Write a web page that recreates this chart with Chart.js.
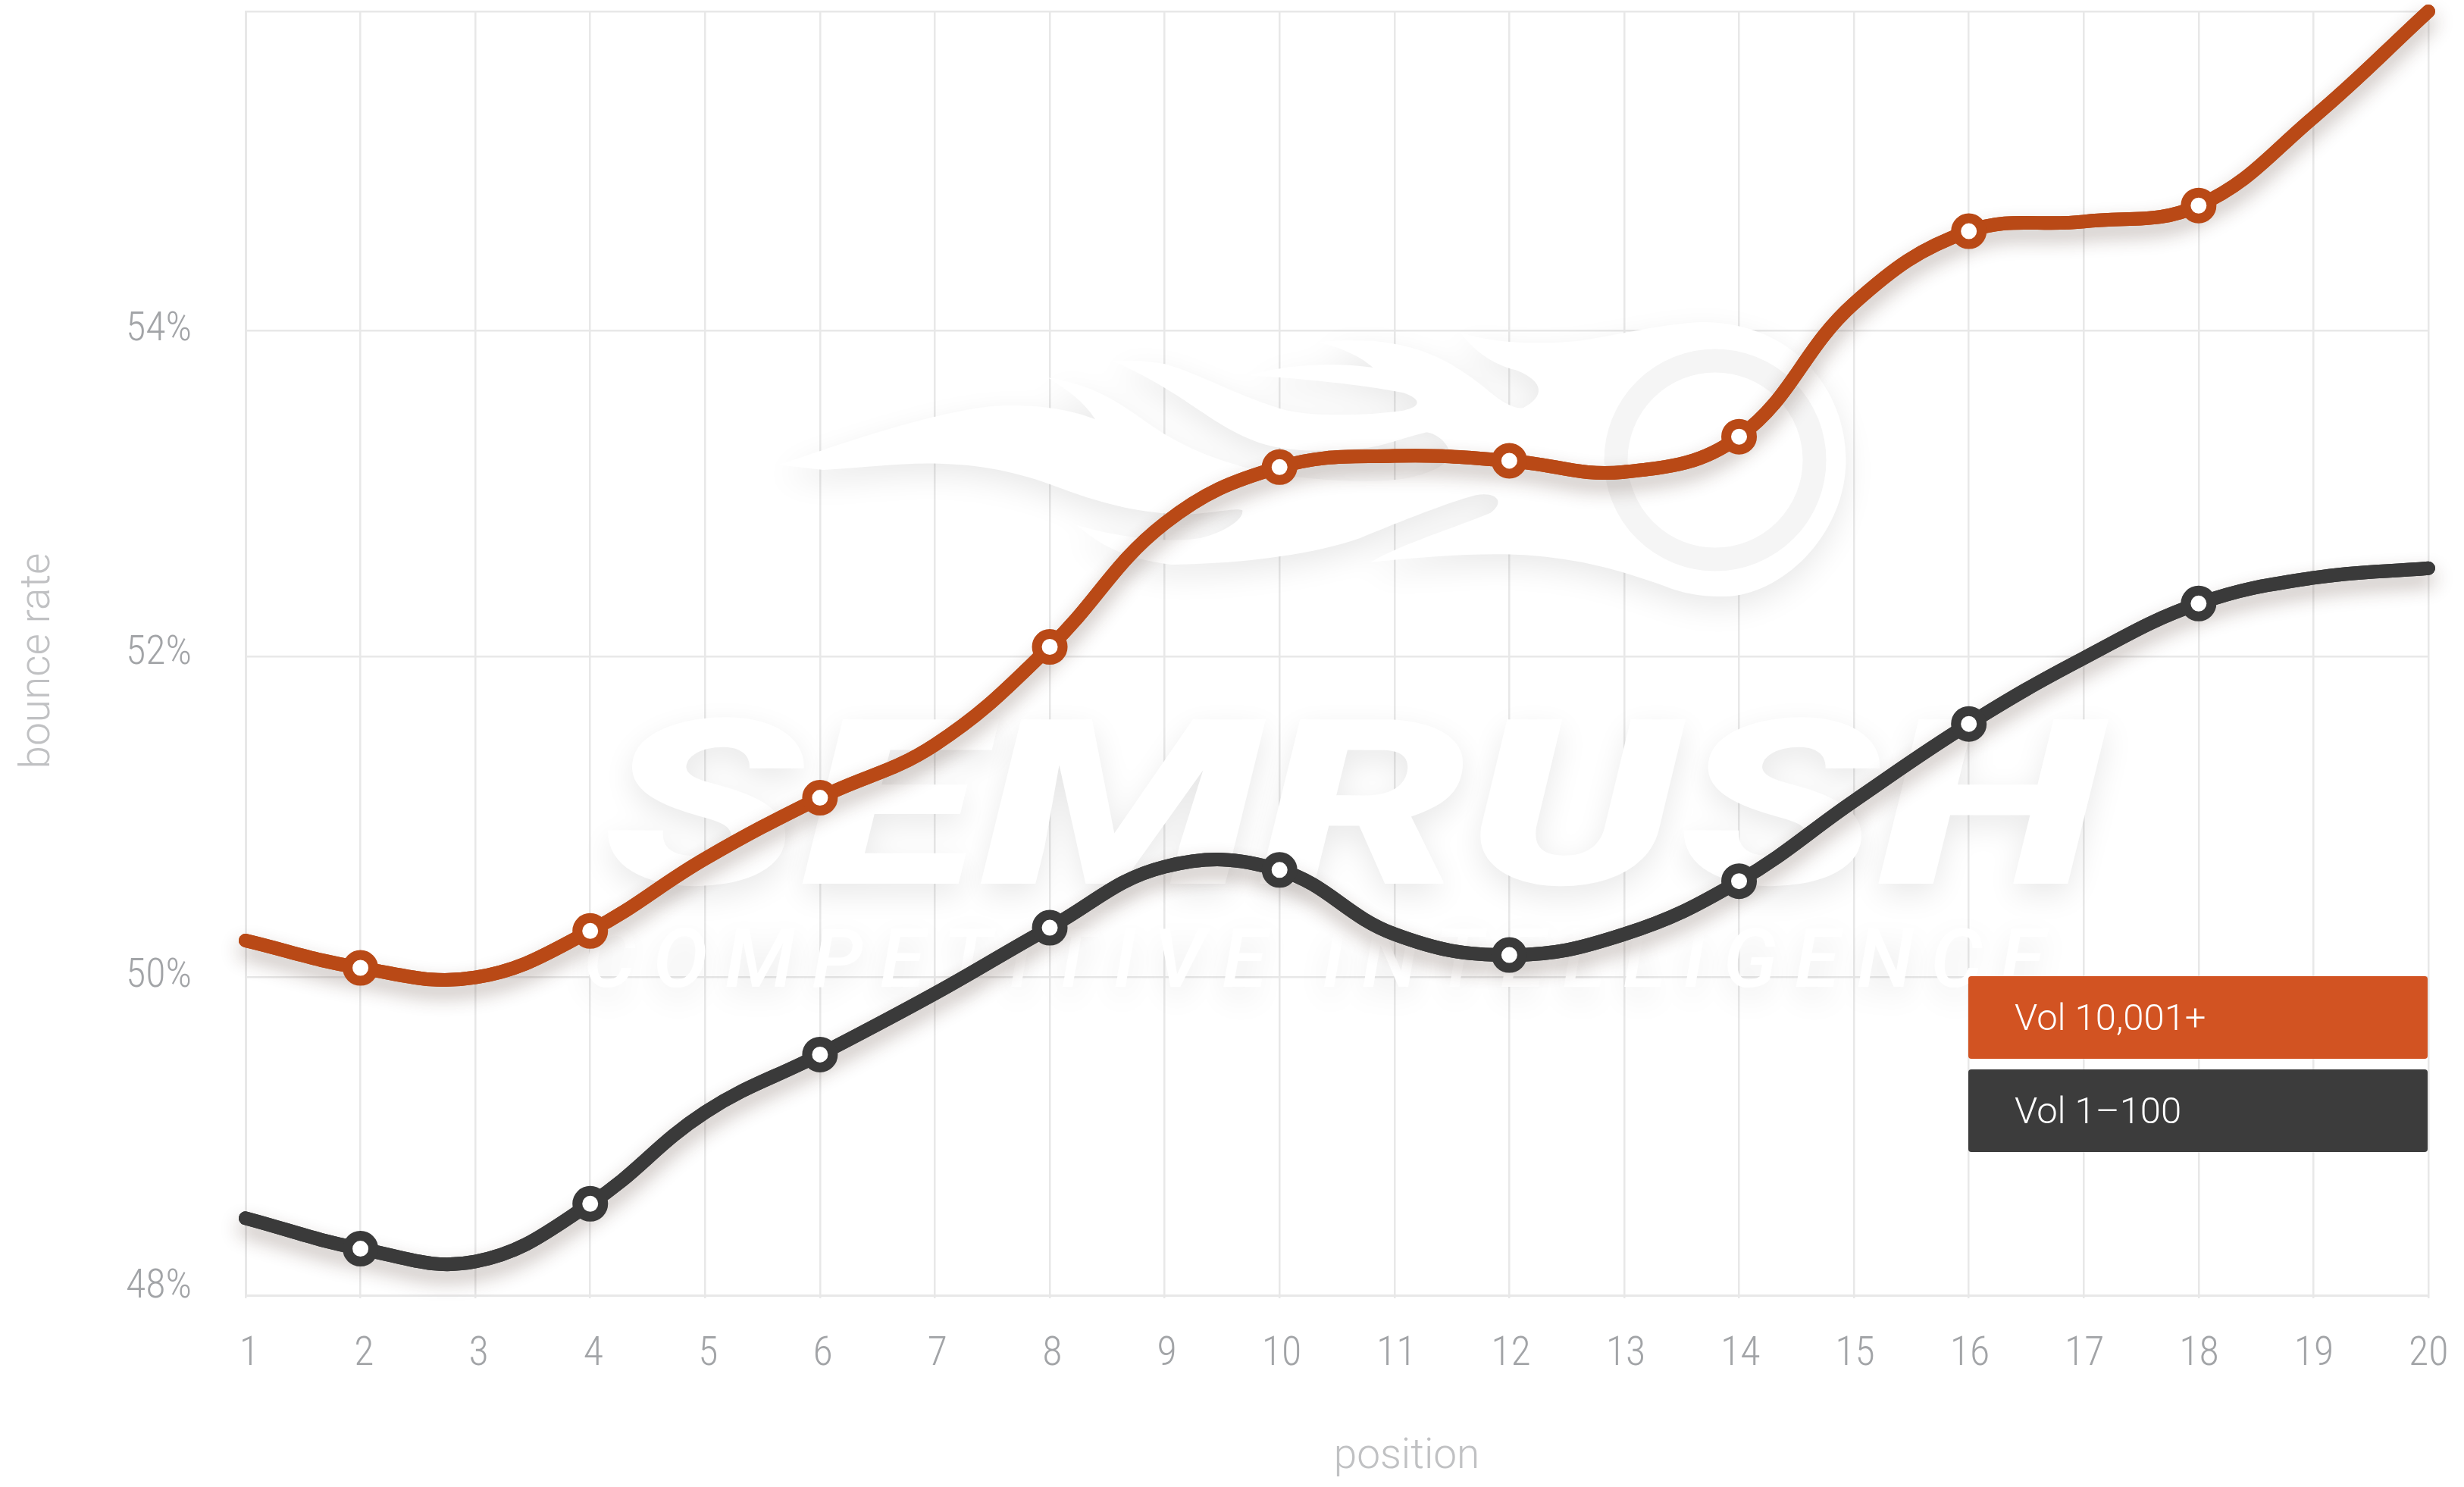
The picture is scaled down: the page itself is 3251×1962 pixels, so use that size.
<!DOCTYPE html>
<html>
<head>
<meta charset="utf-8">
<title>bounce rate by position</title>
<script src="https://cdn.jsdelivr.net/npm/chart.js@4/dist/chart.umd.min.js"></script>
<style>
  body { margin: 0; background: #fff; }
  #wrap { position: relative; width: 3251px; height: 1962px; overflow: hidden; }
  .key { position: absolute; left: 2597px; width: 606px; height: 109px; border-radius: 4px;
         color: #fff; font: 300 49px/109px Roboto, sans-serif; text-indent: 61px; }
</style>
</head>
<body>
<div id="wrap">
  <canvas id="lineChart" width="3251" height="1962"></canvas>
  <div class="key" id="key0" style="top:1288px;background:#d25322"></div>
  <div class="key" id="key1" style="top:1411px;background:#3c3c3c"></div>
</div>
<script>
// categories and values
var positions = ["1","2","3","4","5","6","7","8","9","10","11","12","13","14","15","16","17","18","19","20"];
var volHigh = [50.21, 50.04, 49.98, 50.27, 50.72, 51.10, 51.43, 52.04, 52.81, 53.16, 53.23, 53.20, 53.13, 53.35, 54.18, 54.63, 54.69, 54.79, 55.34, 56.00];
var volLow = [48.48, 48.29, 48.21, 48.57, 49.14, 49.50, 49.88, 50.29, 50.67, 50.65, 50.25, 50.12, 50.25, 50.58, 51.08, 51.56, 51.97, 52.31, 52.47, 52.53];
var seriesNames = ["Vol 10,001+", "Vol 1\u2013100"];
var yTickValues = [48, 49.98, 51.98, 54.01, 56];
var yTickLabels = ["48%", "50%", "52%", "54%", ""];

document.getElementById("key0").textContent = seriesNames[0];
document.getElementById("key1").textContent = seriesNames[1];

const TICK_FONT = "'Roboto Condensed', Roboto, sans-serif";
const GRID = "#e8e8e8";

// the flame outline of the logo, in its own little coordinate space
const FLAME = new Path2D("M30,640 C150,520 280,400 350,405 C400,405 440,430 465,460 C450,390 425,340 400,295 C470,330 500,400 540,480 C590,580 640,630 700,670 C760,700 850,720 900,690 C930,670 950,640 955,600 C950,540 930,510 920,512 C880,540 860,570 830,575 C770,590 720,590 680,540 C620,470 590,360 490,228 C510,228 530,225 560,240 C610,280 670,380 730,425 C770,450 840,445 890,425 C915,410 915,380 890,355 C830,320 750,300 680,285 C730,240 800,235 848,255 C835,220 810,180 775,155 C790,150 820,145 850,150 C920,170 960,240 1000,330 C1020,380 1040,420 1055,415 C1085,370 1085,310 1045,265 C1010,240 985,180 970,120 C1020,160 1080,165 1130,150 C1180,130 1240,85 1300,75 C1430,75 1500,350 1500,620 C1500,900 1420,1140 1340,1160 C1310,1165 1280,1155 1250,1120 C1200,1070 1150,1020 1070,1000 C1010,985 930,1000 845,1025 C890,950 960,890 1010,830 C1030,790 1020,745 990,760 C950,790 890,860 830,930 C770,990 680,1030 570,1035 C500,1010 470,950 440,880 C500,930 570,950 610,930 C640,910 670,860 668,820 C660,810 640,825 600,835 C540,840 480,800 420,735 C370,680 320,640 250,635 C200,630 150,650 90,660 Z");

const watermark = {
  id: "watermark",
  beforeDatasetsDraw(chart) {
    const ctx = chart.ctx;
    ctx.save();
    ctx.shadowColor = "rgba(0,0,0,0.09)";
    ctx.shadowBlur = 40;
    ctx.shadowOffsetY = 14;
    ctx.fillStyle = "#fff";

    ctx.save();
    ctx.transform(0.957, 0, 0, 0.3333, 1000, 400);
    ctx.fill(FLAME);
    ctx.restore();

    ctx.font = "italic 900 305px Roboto, sans-serif";
    ctx.textBaseline = "alphabetic";
    ctx.save();
    ctx.translate(795, 1166);
    ctx.scale(1.42, 1);
    ctx.fillText("SEMRUSH", 0, 0);
    ctx.restore();

    ctx.font = "italic 500 108px Roboto, sans-serif";
    ctx.letterSpacing = "23px";
    ctx.fillText("COMPETITIVE INTELLIGENCE", 770, 1302);
    ctx.letterSpacing = "0px";

    ctx.shadowColor = "transparent";
    ctx.strokeStyle = "#f5f5f5";
    ctx.lineWidth = 31;
    ctx.beginPath();
    ctx.arc(2263, 607, 131, 0, Math.PI * 2);
    ctx.stroke();
    ctx.restore();
  }
};

// soft shadow under the line only, the markers stay clean
const lineShadow = {
  id: "lineShadow",
  beforeDatasetDraw(chart, args) {
    const ctx = chart.ctx;
    ctx.save();
    ctx.shadowColor = "rgba(60,30,20,0.32)";
    ctx.shadowBlur = 26;
    ctx.shadowOffsetY = 13;
    args.meta.dataset.draw(ctx);
    ctx.restore();
  }
};

// the picture's labels sit a little off their grid lines
var yLabelNudge = [-11, -1, -4, -1, 0];
const labelNudge = {
  id: "labelNudge",
  beforeDraw(chart) {
    chart.scales.y.getLabelItems().forEach(function(item, i) {
      item.options.translation[1] += yLabelNudge[i];
    });
    chart.scales.x.getLabelItems().forEach(function(item, i) {
      item.options.translation[0] += 5 - i * 0.25;
    });
  }
};

const axisNames = {
  id: "axisNames",
  afterDraw(chart) {
    const ctx = chart.ctx;
    ctx.save();
    ctx.fillStyle = "#c0c1c3";
    ctx.font = "300 55px Roboto, sans-serif";
    ctx.textAlign = "center";
    ctx.textBaseline = "alphabetic";
    ctx.fillText("position", 1856, 1937);
    ctx.translate(65, 872);
    ctx.rotate(-Math.PI / 2);
    ctx.fillText("bounce rate", 0, 0);
    ctx.restore();
  }
};

function onlyEven(ctx) {
  return (ctx.dataIndex % 2 === 1 && ctx.dataIndex < 18) ? 17 : 0;
}

var Linectx = document.getElementById("lineChart").getContext("2d");

var myChart = new Chart(Linectx, {
  type: "line",
  data: {
    labels: positions,
    datasets: [
      {
        label: seriesNames[0],
        data: volHigh,
        borderColor: "#b94916",
        pointBorderColor: "#b94916"
      },
      {
        label: seriesNames[1],
        data: volLow,
        borderColor: "#3a3a3a",
        pointBorderColor: "#3a3a3a"
      }
    ]
  },
  options: {
    responsive: false,
    animation: false,
    clip: false,
    layout: { autoPadding: false, padding: { top: 15, right: 47 } },
    elements: {
      line: { borderWidth: 18, tension: 0.4, borderCapStyle: "round", fill: false },
      point: { radius: onlyEven, hoverRadius: onlyEven, borderWidth: 13, backgroundColor: "#fff" }
    },
    plugins: { legend: { display: false }, tooltip: { enabled: false } },
    scales: {
      x: {
        offset: false,
        afterFit: function(scale) {
          scale.height = 253;
          scale.paddingLeft = 0;
          scale.paddingRight = 0;
        },
        grid: { color: GRID, lineWidth: 2.5, tickLength: 4 },
        border: { color: GRID, width: 3 },
        ticks: {
          color: "#a2a4a7",
          padding: 42,
          autoSkip: false,
          maxRotation: 0,
          font: { family: TICK_FONT, size: 54, weight: "300" }
        }
      },
      y: {
        min: 48,
        max: 56,
        afterBuildTicks: function(scale) {
          scale.ticks = yTickValues.map(function(v) { return { value: v }; });
        },
        afterFit: function(scale) {
          scale.width = 324;
          scale.paddingTop = 0;
          scale.paddingBottom = 0;
        },
        grid: { color: GRID, lineWidth: 2.5, drawTicks: false },
        border: { color: GRID, width: 3 },
        ticks: {
          color: "#a2a4a7",
          padding: 71,
          font: { family: TICK_FONT, size: 54, weight: "300" },
          callback: function(value, i) { return yTickLabels[i]; }
        }
      }
    }
  },
  plugins: [watermark, lineShadow, labelNudge, axisNames]
});
</script>
</body>
</html>
